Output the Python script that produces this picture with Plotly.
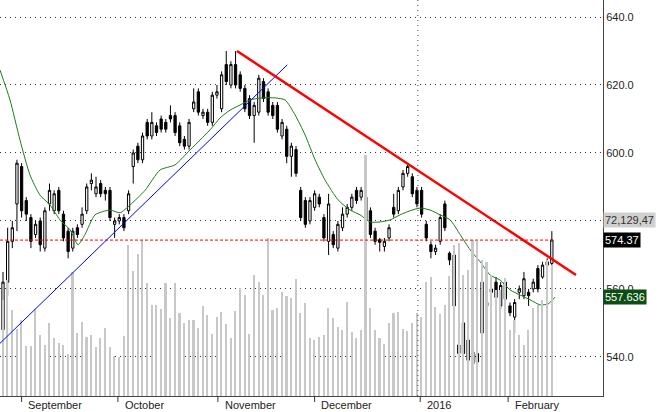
import plotly.graph_objects as go

opens = [548,562,574,585,596,586,581,576,580,572,585,583,589,582,577,572,578,579,583,591,
         588,591,589,589,579,580,581,583,596,602,598,609,605,608,610,609,611,611,608,604,
         602,613,618,611,612,609,617,613,626,620,626,623,619,616,611,612,621,618,614,614,
         605,607,599,601,589,586,580,584,587,581,574,576,572,578,582,584,589,587,587,583,
         577,574.5,572.5,575,584,583,590,594,593,589,589,579,573,571,574,585,570.5,570,543.5,541,
         545,541.5,538.5,547,556,559,562,555,562,555,551.7,559,558,559,560,566,563.5,567,567.5]
closes = [562,574,578,597,583,582,574,579,573,583,589,588,583,575,571,577,576,582,590,592,
          590,588,588,581,580,581,578,588,600,598,605,605,609,606,607,607,610,606,603,602,
          609,615,612,612,609,617,618,623,621,626,620,619,613,611,614,622,616,612,611,607,
          609,599,602,594,581,579,586,588,585,575,585,573,579,582,584,587,586,589,580,576,
          574,573.7,574,578,582,589,594,596,588,585,582,575,571,572,581,578,568.5,555,541,550,
          539,538,541,562,555,560,557.5,561,557,553,556,560,563,558,562,560,567,568,574.4]
highs = [565,578,580,598,597,587,582,580,581,584,591,589,590,583,578,578,579,584,591,594,
         593,592,590,590,581,582,582,589,601,603,606,610,612,609,611,610,614,612,609,605,
         610,619,619,613,613,618,620,624,630,627,630,624,620,617,615,623,622,619,615,615,
         610,608,603,602,590,587,587,589,588,582,588,577,580,584,585,588,590,590,588,584,
         578,575,575,579,588,590,595,597,594,590,590,580,574,573,582,586,571,571,545,551,
         547,543,542,563,557,561,563.5,562,563,556,557,561,565,560,563,567,568,569,577]
lows = [543,558,572,577,581,580,572,575,571,571,583,582,582,574,569,571,575,578,582,589,
        587,587,586,580,575,579,577,582,591,597,597,604,604,605,606,606,609,605,602,601,
        601,612,611,610,608,608,616,612,620,619,619,618,612,610,603,611,615,611,610,606,
        604,597,593,593,580,578,579,583,584,574,570,572,571,577,581,583,585,586,579,575,
        573,571,571,574,581,582,589,593,587,584,581,574,569,570,573,577,567,554,532,540,
        538,532,537,546,554,558,556,554,556,552,547,557,557,555,559,559,563,566,567]
vol_top_px = [300,280,310,329,320,346,346,309,335,345,323,338,343,345,354,272,333,322,337,335,
              347,338,328,347,356,357,336,245,271,254,240,283,305,305,309,283,318,283,313,323,
              320,320,328,306,315,334,317,312,324,338,311,288,295,334,275,282,295,238,310,308,
              292,296,298,279,313,303,338,340,337,335,308,318,327,330,302,332,338,330,155,308,
              330,338,344,323,313,312,329,331,323,313,317,282,277,307,314,305,276,245,243,275,
              270,240,241,260,262,275,290,290,278,330,320,335,345,330,308,305,300,260,265]
volume = [396 - v for v in vol_top_px]

ma_px_x = [0,10,20,30,40,50,60,70,78,85,95,110,120,130,145,160,175,190,200,210,220,230,240,250,262,
           275,285,295,305,315,325,338,350,360,370,380,390,400,410,420,430,440,450,460,470,480,490,
           500,510,520,530,540,548,555]
ma_vals = [624.4,615.6,603.8,593.5,587.6,584.7,580.3,577.4,573,576,581.8,583.2,582.4,584.7,589,595,
           596.5,600.9,603.8,606.8,610.3,612.6,614.1,615.6,616.2,616.2,615.6,611.2,605.3,598,592,586.2,
           583.2,581.8,579.7,579.7,580.3,581.8,583,583.8,583.2,581.8,580.3,576,571.5,568,564.1,562.6,
           559.7,558.2,556.8,555.3,555.6,557.6]
ma_x = [(p - 3) / 4.65 for p in ma_px_x]

month_labels = ["September", "October", "November", "December", "2016", "February"]
month_idx = [4, 24.7, 46.2, 67, 89.7, 108.6]

last_close = 574.37
ma_last = 557.636
vol_label = "72,129,47"

idx = list(range(len(opens)))

fig = go.Figure()
fig.add_trace(go.Bar(x=idx, y=volume, yaxis="y2", marker_color="#c8c8c8",
                     marker_line_width=0, width=0.35, showlegend=False, hoverinfo="skip"))
fig.add_trace(go.Scatter(x=ma_x, y=ma_vals, mode="lines", line=dict(color="#1e7a1e", width=1, shape="spline", smoothing=0.6),
                         showlegend=False))
fig.add_trace(go.Candlestick(x=idx, open=opens, high=highs, low=lows, close=closes,
                             increasing=dict(line=dict(color="black", width=1), fillcolor="white"),
                             decreasing=dict(line=dict(color="black", width=1), fillcolor="black"),
                             whiskerwidth=0, showlegend=False))

x0 = -0.645
x1 = 129.0
shapes = [
    dict(type="line", xref="x", yref="y", x0=x0, x1=118.5, y0=last_close, y1=last_close,
         line=dict(color="red", width=1, dash="3px,2px")),
    dict(type="line", xref="x", yref="y", x0=x0, y0=544, x1=61.1, y1=625.9,
         line=dict(color="blue", width=1)),
    dict(type="line", xref="x", yref="y", x0=50.3, y0=630, x1=123.2, y1=564.1,
         line=dict(color="red", width=2.5)),
    dict(type="line", xref="x", yref="paper", x0=89.2, x1=89.2, y0=0, y1=1,
         line=dict(color="#444", width=1, dash="1px,4px")),
]
for m in month_idx:
    shapes.append(dict(type="line", xref="x", yref="paper", x0=m, x1=m, y0=0, y1=-0.015,
                       line=dict(color="#333", width=1)))

annotations = []
for lab, m in zip(month_labels, month_idx):
    annotations.append(dict(x=m + 1.0, y=-0.003, xref="x", yref="paper", text=lab, showarrow=False,
                            xanchor="left", yanchor="top", font=dict(size=11, color="#222")))
annotations += [
    dict(x=1.0, xref="paper", y=580.4, yref="y", text=vol_label, showarrow=False, xanchor="left",
         bgcolor="#d0d0d0", font=dict(size=11, color="#333"), borderpad=1),
    dict(x=1.0, xref="paper", y=last_close, yref="y", text=f"{last_close:.2f}", showarrow=False,
         xanchor="left", bgcolor="black", font=dict(size=11, color="white"), borderpad=1),
    dict(x=1.0, xref="paper", y=ma_last, yref="y", text=f"{ma_last:.3f}", showarrow=False,
         xanchor="left", bgcolor="#0b4d12", font=dict(size=11, color="white"), borderpad=1),
]

fig.update_layout(
    width=660, height=412, margin=dict(l=0, r=57, t=0, b=16),
    paper_bgcolor="white", plot_bgcolor="white",
    font=dict(family="Liberation Sans, Arial", size=11, color="#222"),
    shapes=shapes, annotations=annotations, bargap=0,
    xaxis=dict(range=[x0, x1], showgrid=False, showticklabels=False, rangeslider=dict(visible=False),
               showline=True, linecolor="#444", linewidth=1, mirror=False, zeroline=False, fixedrange=True),
    yaxis=dict(range=[528.5, 645], side="right", tickvals=[540, 560, 580, 600, 620, 640],
               tickformat=".1f", showgrid=True, gridcolor="#333", griddash="1px,4px", gridwidth=1,
               showline=True, linecolor="#444", linewidth=1, ticks="", zeroline=False),
    yaxis2=dict(range=[0, 396], overlaying="y", visible=False),
)
fig.write_html("out.html", config={"displayModeBar": False},
               post_script="document.body.style.margin='0';document.body.style.overflow='hidden';")
